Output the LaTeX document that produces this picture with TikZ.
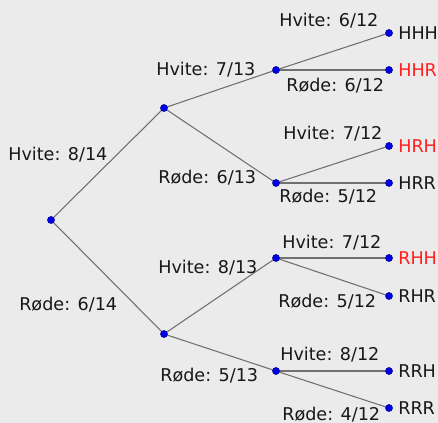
\documentclass[tikz,border=0pt]{standalone}
\usepackage{fontspec}
\setmainfont{DejaVu Sans}
\definecolor{bg}{HTML}{EBEBEB}
\definecolor{edgec}{HTML}{707070}
\definecolor{txt}{HTML}{181818}
\definecolor{redtxt}{HTML}{FF2020}
\definecolor{dotc}{HTML}{0000E6}
\tikzset{
  pt/.style={circle,fill=dotc,draw=dotc!60!black,line width=0.3pt,inner sep=0pt,minimum size=5.4pt},
  edge/.style={draw=edgec,line width=0.8pt},
  lab/.style={font=\fontsize{13.2}{15}\selectfont,text=txt,inner sep=0pt},
  leaf/.style={font=\fontsize{13.2}{15}\selectfont,text=txt,inner sep=0pt,anchor=west},
}
\begin{document}
\begin{tikzpicture}[x=0.75pt,y=-0.75pt]
\fill[bg] (0,0) rectangle (438,423);
\useasboundingbox (0,0) rectangle (438,423);
% nodes
\coordinate (r) at (51,220);
\coordinate (h) at (164,108);
\coordinate (rr) at (164,334);
\coordinate (hh) at (276,70);
\coordinate (hr) at (276,183);
\coordinate (rh) at (276,258);
\coordinate (rrr) at (276,371);
\coordinate (l1) at (389,33);
\coordinate (l2) at (389,70);
\coordinate (l3) at (389,146);
\coordinate (l4) at (389,183);
\coordinate (l5) at (389,258);
\coordinate (l6) at (389,296);
\coordinate (l7) at (389,371);
\coordinate (l8) at (389,408);
% edges
\draw[edge] (r) -- (h);
\draw[edge] (r) -- (rr);
\draw[edge] (h) -- (hh);
\draw[edge] (h) -- (hr);
\draw[edge] (rr) -- (rh);
\draw[edge] (rr) -- (rrr);
\draw[edge] (hh) -- (l1);
\draw[edge] (hh) -- (l2);
\draw[edge] (hr) -- (l3);
\draw[edge] (hr) -- (l4);
\draw[edge] (rh) -- (l5);
\draw[edge] (rh) -- (l6);
\draw[edge] (rrr) -- (l7);
\draw[edge] (rrr) -- (l8);
% dots
\foreach \p in {r,h,rr,hh,hr,rh,rrr,l1,l2,l3,l4,l5,l6,l7,l8}
  \node[pt] (d\p) at (\p) {};
% edge labels
\node[lab,anchor=west] (t1) at (8,155) {Hvite: 8/14};
\node[lab,anchor=west] (t2) at (19,305) {Røde: 6/14};
\node[lab,anchor=west] (t3) at (156,70) {Hvite: 7/13};
\node[lab,anchor=west] (t4) at (158,178) {Røde: 6/13};
\node[lab,anchor=west] (t5) at (158,268) {Hvite: 8/13};
\node[lab,anchor=west] (t6) at (160,376) {Røde: 5/13};
\node[lab,anchor=west] (t7) at (279,21) {Hvite: 6/12};
\node[lab,anchor=west] (t8) at (286,86) {Røde: 6/12};
\node[lab,anchor=west] (t9) at (283,134) {Hvite: 7/12};
\node[lab,anchor=west] (t10) at (279,197) {Røde: 5/12};
\node[lab,anchor=west] (t11) at (282,243) {Hvite: 7/12};
\node[lab,anchor=west] (t12) at (278,302) {Røde: 5/12};
\node[lab,anchor=west] (t13) at (280,355) {Hvite: 8/12};
\node[lab,anchor=west] (t14) at (282,415) {Røde: 4/12};
% leaf labels
\node[leaf] (n1) at (398,33) {HHH};
\node[leaf,text=redtxt] (n2) at (398,70) {HHR};
\node[leaf,text=redtxt] (n3) at (398,146) {HRH};
\node[leaf] (n4) at (398,183) {HRR};
\node[leaf,text=redtxt] (n5) at (398,258) {RHH};
\node[leaf] (n6) at (398,296) {RHR};
\node[leaf] (n7) at (398,371) {RRH};
\node[leaf] (n8) at (398,408) {RRR};
\end{tikzpicture}
\end{document}
